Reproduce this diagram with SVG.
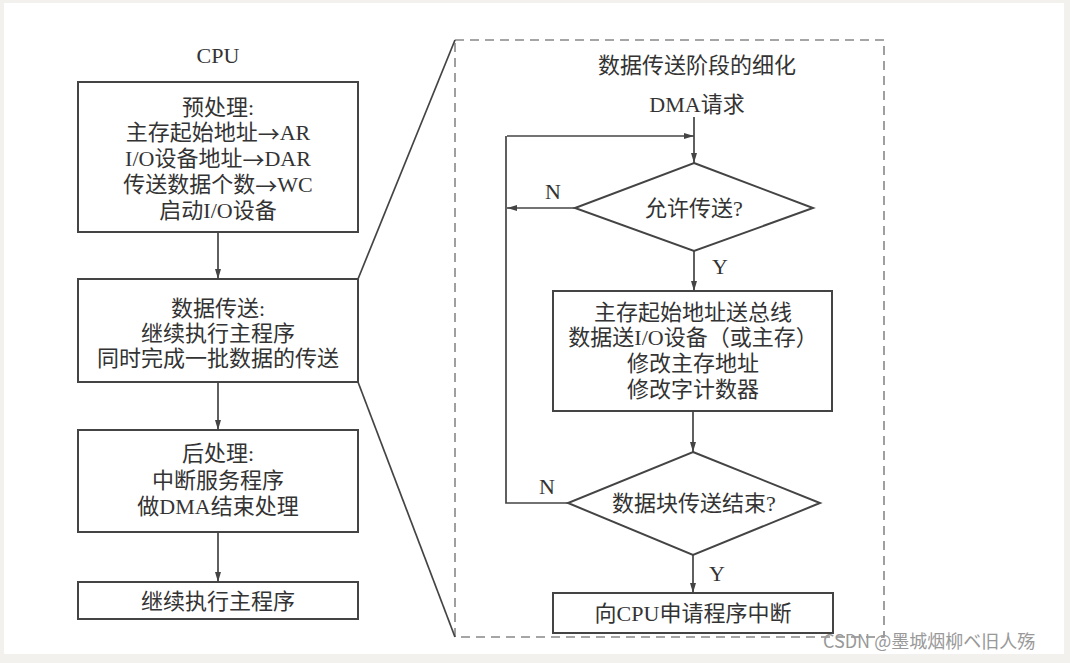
<svg xmlns="http://www.w3.org/2000/svg" width="1070" height="663" viewBox="0 0 1070 663">
<style>
.t{font-family:"Liberation Serif","Noto Sans CJK SC",serif;font-size:22px;fill:#333;text-anchor:middle;dominant-baseline:central}
.ar{font-family:"Noto Sans CJK SC",sans-serif}
.box{fill:none;stroke:#444;stroke-width:2}
.ln{fill:none;stroke:#444;stroke-width:1.7}
.dash{fill:none;stroke:#888;stroke-width:1.6;stroke-dasharray:9,6}
.wm{font-family:"Noto Sans CJK SC","Liberation Sans",sans-serif;font-size:18px;fill:#999}
</style>
<defs>
<marker id="ah" viewBox="0 0 10 10" refX="10" refY="5" markerWidth="10" markerHeight="10" markerUnits="userSpaceOnUse" orient="auto">
<path d="M0,2 L10,5 L0,8 Z" fill="#444"/>
</marker>
</defs>
<rect x="0" y="0" width="1070" height="663" fill="#f2f1ed"/>
<rect x="4" y="3" width="1060" height="651" fill="#ffffff"/>

<text class="t" x="218" y="55">CPU</text>

<g id="pre">
<rect class="box" x="78" y="82" width="280" height="150"/>
<text class="t" x="218" y="107">预处理:</text>
<text class="t" x="218" y="132">主存起始地址<tspan class="ar">→</tspan>AR</text>
<text class="t" x="218" y="158">I/O设备地址<tspan class="ar">→</tspan>DAR</text>
<text class="t" x="218" y="184">传送数据个数<tspan class="ar">→</tspan>WC</text>
<text class="t" x="218" y="210">启动I/O设备</text>
</g>
<g id="transfer">
<rect class="box" x="78" y="279" width="280" height="103"/>
<text class="t" x="218" y="308">数据传送:</text>
<text class="t" x="218" y="333">继续执行主程序</text>
<text class="t" x="218" y="358">同时完成一批数据的传送</text>
</g>
<g id="post">
<rect class="box" x="78" y="430" width="280" height="102"/>
<text class="t" x="218" y="453">后处理:</text>
<text class="t" x="218" y="480">中断服务程序</text>
<text class="t" x="218" y="506">做DMA结束处理</text>
</g>
<g id="cont">
<rect class="box" x="78" y="582" width="280" height="37"/>
<text class="t" x="218" y="601">继续执行主程序</text>
</g>

<g id="detail">
<rect class="dash" x="455" y="40" width="429" height="597"/>
<text class="t" x="697" y="65">数据传送阶段的细化</text>
</g>
<text class="t" x="697" y="104">DMA请求</text>

<g id="allow">
<polygon class="box" points="694,163 813,208 694,251 575,208"/>
<text class="t" x="694" y="208">允许传送?</text>
</g>
<g id="ops">
<rect class="box" x="553" y="291" width="279" height="120"/>
<text class="t" x="693" y="312">主存起始地址送总线</text>
<text class="t" x="693" y="337">数据送I/O设备（或主存）</text>
<text class="t" x="693" y="363">修改主存地址</text>
<text class="t" x="693" y="389">修改字计数器</text>
</g>
<g id="done">
<polygon class="box" points="693,452 820,503 693,555 568,503"/>
<text class="t" x="694" y="503">数据块传送结束?</text>
</g>
<g id="irq">
<rect class="box" x="553" y="593" width="280" height="40"/>
<text class="t" x="693" y="613">向CPU申请程序中断</text>
</g>

<g id="connectors">
<line class="ln" x1="218" y1="232" x2="218" y2="279" marker-end="url(#ah)"/>
<line class="ln" x1="218" y1="382" x2="218" y2="430" marker-end="url(#ah)"/>
<line class="ln" x1="218" y1="532" x2="218" y2="582" marker-end="url(#ah)"/>
<line class="ln" x1="358" y1="279" x2="455" y2="40"/>
<line class="ln" x1="358" y1="382" x2="455" y2="637"/>
<line class="ln" x1="694" y1="117" x2="694" y2="163" marker-end="url(#ah)"/>
<line class="ln" x1="507" y1="136" x2="694" y2="136" marker-end="url(#ah)"/>
<line class="ln" x1="575" y1="208" x2="507" y2="208" marker-end="url(#ah)"/>
<line class="ln" x1="694" y1="251" x2="694" y2="291" marker-end="url(#ah)"/>
<line class="ln" x1="693" y1="411" x2="693" y2="452" marker-end="url(#ah)"/>
<polyline class="ln" points="568,503 506,503 506,136"/>
<line class="ln" x1="693" y1="555" x2="693" y2="593" marker-end="url(#ah)"/>
<text class="t" x="553" y="191">N</text>
<text class="t" x="720" y="266">Y</text>
<text class="t" x="547" y="486">N</text>
<text class="t" x="717" y="573">Y</text>
</g>

<text class="wm" x="823" y="648">CSDN @墨城烟柳ベ旧人殇</text>
</svg>
